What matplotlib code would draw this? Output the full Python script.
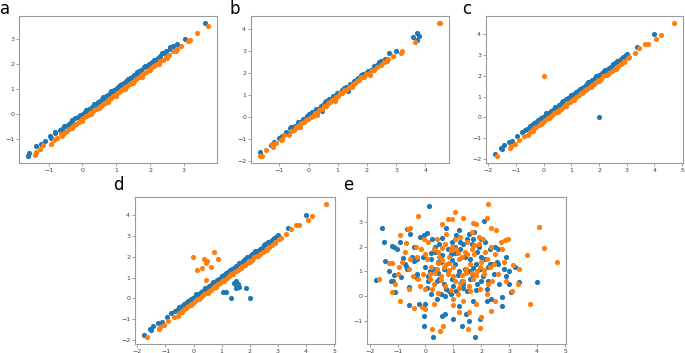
import matplotlib
matplotlib.use("Agg")
import matplotlib.pyplot as plt
from matplotlib.ticker import MultipleLocator

BLUE = "#1f77b4"
ORANGE = "#ff7f0e"

# ---------------- panel a ----------------
a_blue_x = [-1.61, -1.57, -1.36, -1.24, -1.12, -0.97, -0.93, -0.80, -0.67, -0.60, -0.51, -0.44, -0.37, -0.30,
            -0.21, -0.14, -0.07, 0.01, 0.08, 0.15, 0.20, 0.27, 0.33, 0.40, 0.46, 0.52, 0.58, 0.63, 0.70, 0.76,
            0.81, 0.88, 0.93, 0.99, 1.05, 1.11, 1.17, 1.22, 1.29, 1.35, 1.41, 1.47, 1.53, 1.60, 1.67, 1.74,
            1.82, 1.90, 1.97, 2.05, 2.13, 2.22, 2.30, 2.40, 2.47, 2.58, 2.68, 2.78, 3.02, 3.63,
            0.10, 0.35, 0.60, 0.85, 1.10, 1.35, 1.60, 1.85, 2.10, 2.35, 2.60, -0.30, -0.55, -0.80]
a_blue_y = [-1.67, -1.54, -1.27, -1.18, -1.08, -0.87, -0.95, -0.76, -0.61, -0.58, -0.47, -0.42, -0.33, -0.28,
            -0.16, -0.12, -0.02, 0.03, 0.10, 0.19, 0.22, 0.30, 0.37, 0.41, 0.50, 0.53, 0.62, 0.64, 0.73, 0.78,
            0.85, 0.90, 0.97, 1.00, 1.09, 1.12, 1.21, 1.24, 1.33, 1.36, 1.45, 1.49, 1.57, 1.61, 1.71, 1.76,
            1.86, 1.91, 2.01, 2.06, 2.17, 2.24, 2.33, 2.42, 2.50, 2.60, 2.72, 2.80, 3.00, 3.64,
            0.16, 0.42, 0.67, 0.92, 1.17, 1.42, 1.67, 1.92, 2.17, 2.43, 2.67, -0.23, -0.48, -0.72]
a_orange_x = [-1.41, -1.36, -1.26, -1.17, -0.93, -0.85, -0.74, -0.62, -0.55, -0.47, -0.40, -0.32, -0.25, -0.18,
              -0.10, -0.04, 0.03, 0.10, 0.16, 0.22, 0.29, 0.35, 0.41, 0.48, 0.54, 0.60, 0.66, 0.72, 0.79, 0.85,
              0.91, 0.97, 1.03, 1.09, 1.15, 1.21, 1.27, 1.33, 1.40, 1.46, 1.52, 1.59, 1.66, 1.73, 1.80, 1.88,
              1.96, 2.04, 2.12, 2.20, 2.29, 2.38, 2.47, 2.57, 2.68, 2.80, 2.90, 3.12, 3.17, 3.39, 3.71,
              0.00, 0.25, 0.50, 0.75, 1.00, 1.25, 1.50, 1.75, 2.00, 2.25, 2.50, -0.30, -0.60, 2.75]
a_orange_y = [-1.63, -1.51, -1.39, -1.24, -1.17, -1.02, -0.93, -0.80, -0.75, -0.66, -0.58, -0.52, -0.43, -0.37,
              -0.29, -0.22, -0.16, -0.08, -0.03, 0.04, 0.10, 0.16, 0.22, 0.29, 0.34, 0.42, 0.46, 0.53, 0.60, 0.65,
              0.72, 0.77, 0.85, 0.89, 0.96, 1.02, 1.08, 1.13, 1.21, 1.26, 1.34, 1.39, 1.47, 1.53, 1.61, 1.68,
              1.77, 1.84, 1.93, 2.00, 2.10, 2.17, 2.28, 2.37, 2.50, 2.60, 2.73, 2.90, 2.97, 3.23, 3.52,
              -0.25, 0.00, 0.24, 0.50, 0.74, 1.00, 1.24, 1.50, 1.74, 2.00, 2.24, -0.55, -0.85, 2.50]

# ---------------- panel b ----------------
b_blue_x = [-1.66, -1.29, -1.18, -1.02, -0.90, -0.78, -0.62, -0.55, -0.45, -0.36, -0.35, -0.28, -0.20, -0.12,
            -0.04, 0.05, 0.12, 0.20, 0.27, 0.34, 0.42, 0.45, 0.50, 0.57, 0.64, 0.71, 0.78, 0.85, 0.92, 0.99,
            1.06, 1.13, 1.20, 1.27, 1.34, 1.35, 1.41, 1.49, 1.56, 1.63, 1.71, 1.79, 1.87, 1.96, 2.05, 2.14,
            2.25, 2.36, 2.47, 2.61, 2.75, 2.98, 3.59, 3.73, 3.79, 3.73,
            0.00, 0.60, 1.20, 1.80, 2.40, -0.60, 0.90]
b_blue_y = [-1.58, -1.25, -1.10, -0.93, -0.85, -0.65, -0.48, -0.44, -0.38, -0.22, -0.45, -0.20, -0.07, -0.05,
            0.06, 0.12, 0.24, 0.25, 0.38, 0.40, 0.52, 0.30, 0.55, 0.68, 0.70, 0.82, 0.85, 0.96, 0.98, 1.10,
            1.11, 1.24, 1.25, 1.37, 1.39, 1.20, 1.51, 1.53, 1.66, 1.68, 1.80, 1.83, 1.96, 2.00, 2.12, 2.16,
            2.34, 2.38, 2.56, 2.65, 2.95, 3.00, 3.65, 3.83, 3.72, 3.51,
            0.15, 0.75, 1.35, 1.95, 2.52, -0.45, 0.85]
b_orange_x = [-1.66, -1.58, -1.46, -1.25, -1.20, -1.10, -0.95, -0.85, -0.68, -0.60, -0.50, -0.42, -0.33, -0.25,
              -0.17, -0.09, -0.01, 0.07, 0.15, 0.22, 0.30, 0.37, 0.45, 0.52, 0.60, 0.67, 0.74, 0.81, 0.88, 0.95,
              1.02, 1.09, 1.16, 1.23, 1.30, 1.37, 1.44, 1.51, 1.58, 1.66, 1.73, 1.81, 1.89, 1.97, 2.06, 2.15,
              2.25, 2.36, 2.48, 2.60, 2.72, 2.90, 3.15, 3.21, 3.65, 4.45, 4.50,
              0.30, 0.90, 1.50, 2.10, 2.70, -0.30, -0.90]
b_orange_y = [-1.77, -1.77, -1.46, -1.20, -1.35, -1.15, -1.05, -0.80, -0.82, -0.60, -0.55, -0.45, -0.36, -0.26,
              -0.20, -0.10, -0.06, 0.04, 0.08, 0.20, 0.22, 0.34, 0.38, 0.50, 0.53, 0.65, 0.68, 0.80, 0.83, 0.95,
              0.98, 1.10, 1.12, 1.24, 1.27, 1.38, 1.41, 1.53, 1.55, 1.67, 1.70, 1.82, 1.84, 1.97, 1.98, 2.10,
              2.15, 2.30, 2.40, 2.52, 2.65, 2.78, 2.95, 3.03, 3.45, 4.29, 4.31,
              0.12, 0.75, 1.38, 1.95, 2.55, -0.42, -0.98]

# ---------------- panels c and d (shared line) ----------------
cd_blue_x = [-1.76, -1.55, -1.50, -1.43, -1.25, -1.14, -0.95, -0.80, -0.66, -0.60, -0.50, -0.42, -0.34, -0.26,
             -0.18, -0.10, -0.03, 0.05, 0.12, 0.19, 0.26, 0.33, 0.40, 0.47, 0.54, 0.61, 0.68, 0.75, 0.82, 0.89,
             0.96, 1.03, 1.10, 1.17, 1.24, 1.31, 1.38, 1.45, 1.52, 1.60, 1.68, 1.76, 1.84, 1.92, 2.00, 2.09,
             2.18, 2.27, 2.36, 2.46, 2.56, 2.70, 2.78, 2.97, 3.02, 3.36, 4.00,
             -0.50, -0.20, 0.10, 0.40, 0.70, 1.00, 1.30, 1.60, 1.90, 2.20, 2.50, 2.65, 2.85]
cd_blue_y = [-1.77, -1.48, -1.56, -1.33, -1.20, -1.17, -0.90, -0.72, -0.60, -0.56, -0.45, -0.38, -0.30, -0.22,
             -0.14, -0.06, 0.01, 0.08, 0.16, 0.22, 0.30, 0.36, 0.44, 0.50, 0.58, 0.64, 0.72, 0.78, 0.86, 0.92,
             1.00, 1.06, 1.14, 1.20, 1.28, 1.34, 1.42, 1.48, 1.56, 1.63, 1.72, 1.79, 1.88, 1.95, 2.04, 2.12,
             2.22, 2.30, 2.40, 2.47, 2.60, 2.70, 2.82, 3.02, 3.08, 3.40, 4.00,
             -0.42, -0.12, 0.18, 0.48, 0.78, 1.08, 1.38, 1.68, 1.98, 2.28, 2.57, 2.72, 2.90]
cd_orange_x = [-1.67, -1.22, -1.18, -1.05, -0.90, -0.70, -0.56, -0.50, -0.42, -0.34, -0.26, -0.18, -0.10, -0.02,
               0.06, 0.14, 0.22, 0.30, 0.38, 0.46, 0.54, 0.62, 0.70, 0.78, 0.86, 0.94, 1.02, 1.10, 1.18, 1.26,
               1.34, 1.42, 1.50, 1.58, 1.66, 1.74, 1.82, 1.90, 1.98, 2.07, 2.16, 2.26, 2.36, 2.46, 2.57, 2.68,
               2.80, 2.90, 3.10, 3.30, 3.45, 3.66, 3.76, 4.06, 4.23, 4.71,
               -0.40, -0.10, 0.20, 0.50, 0.80, 1.10, 1.40, 1.70, 2.00, 2.30, 2.60, 2.90, 3.05]
cd_orange_y = [-1.89, -1.50, -1.38, -1.28, -1.12, -0.92, -0.85, -0.72, -0.62, -0.53, -0.46, -0.37, -0.30, -0.21,
               -0.13, -0.06, 0.03, 0.10, 0.19, 0.26, 0.35, 0.42, 0.51, 0.58, 0.67, 0.74, 0.83, 0.90, 0.99, 1.06,
               1.15, 1.22, 1.31, 1.38, 1.47, 1.54, 1.63, 1.70, 1.79, 1.87, 1.97, 2.05, 2.16, 2.24, 2.35, 2.46,
               2.58, 2.70, 2.90, 3.12, 3.35, 3.52, 3.56, 3.79, 3.97, 4.57,
               -0.65, -0.35, -0.05, 0.25, 0.55, 0.85, 1.15, 1.45, 1.75, 2.05, 2.35, 2.65, 2.85]

c_out_blue_x = [2.00]
c_out_blue_y = [0.00]
c_out_orange_x = [0.00]
c_out_orange_y = [2.00]

d_out_blue_x = [1.06, 1.17, 1.32, 1.50, 1.46, 1.51, 1.57, 1.60, 1.88, 2.00, 1.43]
d_out_blue_y = [0.28, 0.28, 0.03, 0.85, 0.69, 0.49, 0.69, 0.55, 0.50, 0.00, 0.73]
d_out_orange_x = [-0.02, 0.12, 0.29, 0.37, 0.43, 0.48, 0.74, 0.88, 0.63, 0.46]
d_out_orange_y = [2.00, 1.35, 1.47, 1.91, 1.71, 1.79, 2.25, 1.91, 1.50, 0.88]

# ---------------- panel e ----------------
e_blue_x = [-1.77, -1.55, -1.50, -1.46, -1.20, -1.14, -1.01, -1.14, -1.17, -1.25, -1.10, -0.86, -0.75, -0.66,
            -0.57, -0.69, -0.65, -0.60, -0.60, -0.42, -0.29, -0.31, -0.23, -0.40, -0.20, -0.07, 0.07, 0.13,
            -0.06, -0.07, 0.28, -0.10, 0.00, 0.10, 0.05, 0.20, 0.15, 0.30, 0.25, 0.35, 0.40, 0.45, 0.50,
            0.55, 0.61, 0.70, 0.65, 0.75, 0.80, 0.85, 0.90, 0.95, 1.00, 1.00, 1.05, 1.10, 1.15, 1.20, 1.25,
            1.31, 1.30, 1.35, 1.40, 1.45, 1.50, 1.55, 1.60, 1.65, 1.70, 1.78, 1.75, 1.80, 1.85, 1.90, 1.95,
            2.00, 2.05, 2.10, 2.15, 2.20, 2.25, 2.30, 2.35, 2.45, 2.50, 2.55, 2.61, 2.65, 2.75, 2.75, 2.80,
            2.90, 3.01, 3.05, 3.00, 3.36, 4.01, 1.20, 0.60, -0.50, -0.90, 0.70, 1.55, 2.20, 0.40, 0.95,
            1.35, 1.70, 0.55, 1.05, 2.40, 0.20, 1.60, 2.00,
            0.20, 0.50, 0.80, 1.10, 1.40, 1.70, 2.00, 2.30, 0.35, 0.65, 0.95, 1.25, 1.55, 1.85, 2.15, 0.10,
            0.45, 0.75, 1.05, 1.35, 1.65, 1.95, 2.25, 0.60, 0.90, 1.20, 1.50, 1.80, -0.30, -0.80, 2.60, 2.90,
            3.20, -1.30, 0.00]
e_blue_y = [0.67, 2.73, 2.17, 1.43, 2.04, 2.00, 1.92, 0.85, 0.60, 0.60, 0.16, 0.76, 1.30, 2.69,
            2.52, 1.23, 1.12, 0.39, -0.35, 1.43, 1.49, 0.73, -0.31, 2.00, 2.40, 2.47, 2.56, 3.63,
            -0.77, -1.17, -1.64, 1.60, 1.20, 0.60, 0.35, 0.10, 1.00, 1.10, 2.30, 1.80, -0.10, 0.95, 2.10,
            1.40, -0.77, -0.71, 0.50, 2.75, 1.00, 0.20, 1.70, 2.20, 0.40, -0.90, 1.30, 2.45, 0.85, -0.40, 1.90,
            -1.17, 0.60, 2.10, 1.10, -0.70, 0.20, 2.50, 1.50, 0.90, -0.20, -1.64, 2.60, 1.30, 0.50, 2.00, -0.90,
            1.60, 0.80, 3.03, 2.20, 0.30, 1.20, 1.90, -0.10, 0.90, 2.00, 1.40, 1.92, 0.50, -0.04, -0.37, 1.10,
            1.60, 0.49, 0.16, 1.00, 0.56, 0.56, 2.65, 2.35, 1.60, 2.20, 0.00, -1.00, -0.20, 0.60, 1.45,
            0.35, 1.15, 0.10, 2.00, 1.30, 1.75, 0.70, 2.30,
            1.50, 0.70, 1.90, 0.20, 1.60, 2.30, 0.60, 1.30, 2.00, 1.10, 0.70, 2.20, 1.00, 1.80, 1.50, 0.80,
            1.40, 0.30, 1.75, 0.50, 2.10, 1.10, 0.60, 1.65, 0.10, 1.00, 2.30, 0.25, 0.90, 1.55, 1.30, 0.80,
            1.20, 1.00, -0.30]
e_orange_x = [2.24, -0.27, 1.07, 0.80, 0.96, 1.36, 1.69, 2.22, 2.33, 2.54, 2.84, 2.96, 3.12, 3.36, 3.64,
              4.08, 4.24, 4.71, 3.75, -0.57, -0.63, -0.90, -1.67, -1.20, -0.92, -0.13, 0.00, 0.24, 0.52,
              0.64, 1.52, 1.94, 1.99, 2.33, 1.55, 1.20, -1.30, -1.20, -0.95, -0.85, -0.75, -0.70, -0.55,
              -0.45, -0.35, -0.30, -0.20, -0.15, -0.10, -0.05, 0.00, 0.05, 0.10, 0.15, 0.20, 0.25, 0.30,
              0.35, 0.40, 0.45, 0.50, 0.55, 0.60, 0.65, 0.70, 0.75, 0.80, 0.85, 0.90, 0.95, 1.00, 1.05,
              1.10, 1.15, 1.20, 1.25, 1.30, 1.35, 1.40, 1.45, 1.50, 1.55, 1.60, 1.65, 1.70, 1.75, 1.80,
              1.85, 1.90, 1.95, 2.00, 2.05, 2.10, 2.15, 2.20, 2.30, 2.35, 2.40, 2.50, 2.60, 2.70, 2.80,
              2.90, -1.00, -0.60, 0.30, 1.00, 2.50, 3.30, -0.40, 0.60, 1.80, 0.85, 1.25, 1.65, 0.45,
              0.15, 0.45, 0.75, 1.05, 1.35, 1.65, 1.95, 2.25, 0.30, 0.60, 0.90, 1.20, 1.50, 1.80, 2.10, 0.00,
              0.40, 0.70, 1.00, 1.30, 1.60, 1.90, 2.20, 0.55, 0.85, 1.15, 1.45, 1.75, -0.60, -1.10, 2.45, 2.75,
              3.10, -0.25, 1.00]
e_orange_y = [3.72, 3.23, 3.39, 3.12, 3.09, 3.16, 2.93, 3.16, 2.76, 2.67, 2.27, 2.29, 1.25, 1.09, 1.65,
              2.80, 1.93, 1.40, -0.31, 2.76, 2.69, 2.45, 0.68, 0.16, -0.17, -0.44, -0.51, -1.31, -1.40,
              -1.17, -1.31, -1.27, -0.81, -0.60, -0.64, -0.64, 1.35, 1.35, 1.20, 1.40, 1.80, 2.15, 1.50,
              0.80, 2.00, 1.60, 0.40, 1.90, 0.90, 2.30, 0.30, 1.50, 2.20, 0.70, 1.20, 0.30, 1.90,
              0.95, 2.30, 0.15, 1.60, 0.80, 1.95, 1.20, 0.40, 2.50, 0.90, 1.60, 0.25, 2.00, 1.20, 0.60,
              1.90, 0.10, 1.50, 2.40, 0.85, -0.20, 1.80, 1.10, 2.20, 0.40, 1.30, 2.60, 0.70, 1.70, -0.30,
              1.00, 2.10, 0.30, 1.40, 2.30, 0.90, 1.80, 0.10, 1.20, 2.00, 0.60, 1.70, 0.90, 2.20, 1.40,
              0.60, 0.90, 0.30, -0.30, -0.35, -0.20, 0.50, -0.45, 2.90, 2.90, 1.05, 0.55, 0.95, 1.35,
              0.90, 1.80, 1.30, 2.30, 0.60, 1.90, 1.20, 0.50, 0.50, 1.45, 1.85, 0.35, 1.70, 0.85, 1.05, 1.70,
              1.10, 2.10, 0.80, 1.60, 0.20, 2.40, 1.50, 0.65, 1.35, 1.75, 0.95, 2.05, 1.10, 0.50, 1.30, 1.90,
              0.20, 0.70, -0.10]

MS = 14

fig = plt.figure(figsize=(6.85, 3.53), dpi=100)

def make_ax(rect):
    ax = fig.add_axes(rect)
    ax.xaxis.set_major_locator(MultipleLocator(1))
    ax.yaxis.set_major_locator(MultipleLocator(1))
    ax.tick_params(labelsize=4.5, length=2, width=0.5, color="#777777",
                   labelcolor="#444444", pad=1.5)
    for s in ax.spines.values():
        s.set_color("#9a9a9a")
        s.set_linewidth(0.8)
    return ax

H = 147 / 353
ax_a = make_ax([19 / 685, 1 - 163 / 353, 198 / 685, H])
ax_b = make_ax([251 / 685, 1 - 163 / 353, 198 / 685, H])
ax_c = make_ax([486 / 685, 1 - 163 / 353, 197 / 685, H])
ax_d = make_ax([135 / 685, 1 - 344 / 353, 200 / 685, H])
ax_e = make_ax([367 / 685, 1 - 344 / 353, 199 / 685, H])

ax_a.scatter(a_blue_x, a_blue_y, s=MS, color=BLUE, linewidths=0)
ax_a.scatter(a_orange_x, a_orange_y, s=MS, color=ORANGE, linewidths=0)

ax_b.scatter(b_blue_x, b_blue_y, s=MS, color=BLUE, linewidths=0)
ax_b.scatter(b_orange_x, b_orange_y, s=MS, color=ORANGE, linewidths=0)

ax_c.scatter(cd_blue_x + c_out_blue_x, cd_blue_y + c_out_blue_y, s=MS, color=BLUE, linewidths=0)
ax_c.scatter(cd_orange_x + c_out_orange_x, cd_orange_y + c_out_orange_y, s=MS, color=ORANGE, linewidths=0)

ax_d.scatter(cd_blue_x + d_out_blue_x, cd_blue_y + d_out_blue_y, s=MS, color=BLUE, linewidths=0)
ax_d.scatter(cd_orange_x + d_out_orange_x, cd_orange_y + d_out_orange_y, s=MS, color=ORANGE, linewidths=0)

ax_e.scatter(e_blue_x, e_blue_y, s=MS, color=BLUE, linewidths=0)
ax_e.scatter(e_orange_x, e_orange_y, s=MS, color=ORANGE, linewidths=0)

labels = [("a", 0 / 685, 1.0), ("b", 230 / 685, 1.0), ("c", 462 / 685, 1.0),
          ("d", 113 / 685, 1 - 176 / 353), ("e", 343 / 685, 1 - 176 / 353)]
for t, x, y in labels:
    fig.text(x, y, t, fontsize=12, ha="left", va="top", family="DejaVu Sans")

fig.savefig("out.png", dpi=100)
